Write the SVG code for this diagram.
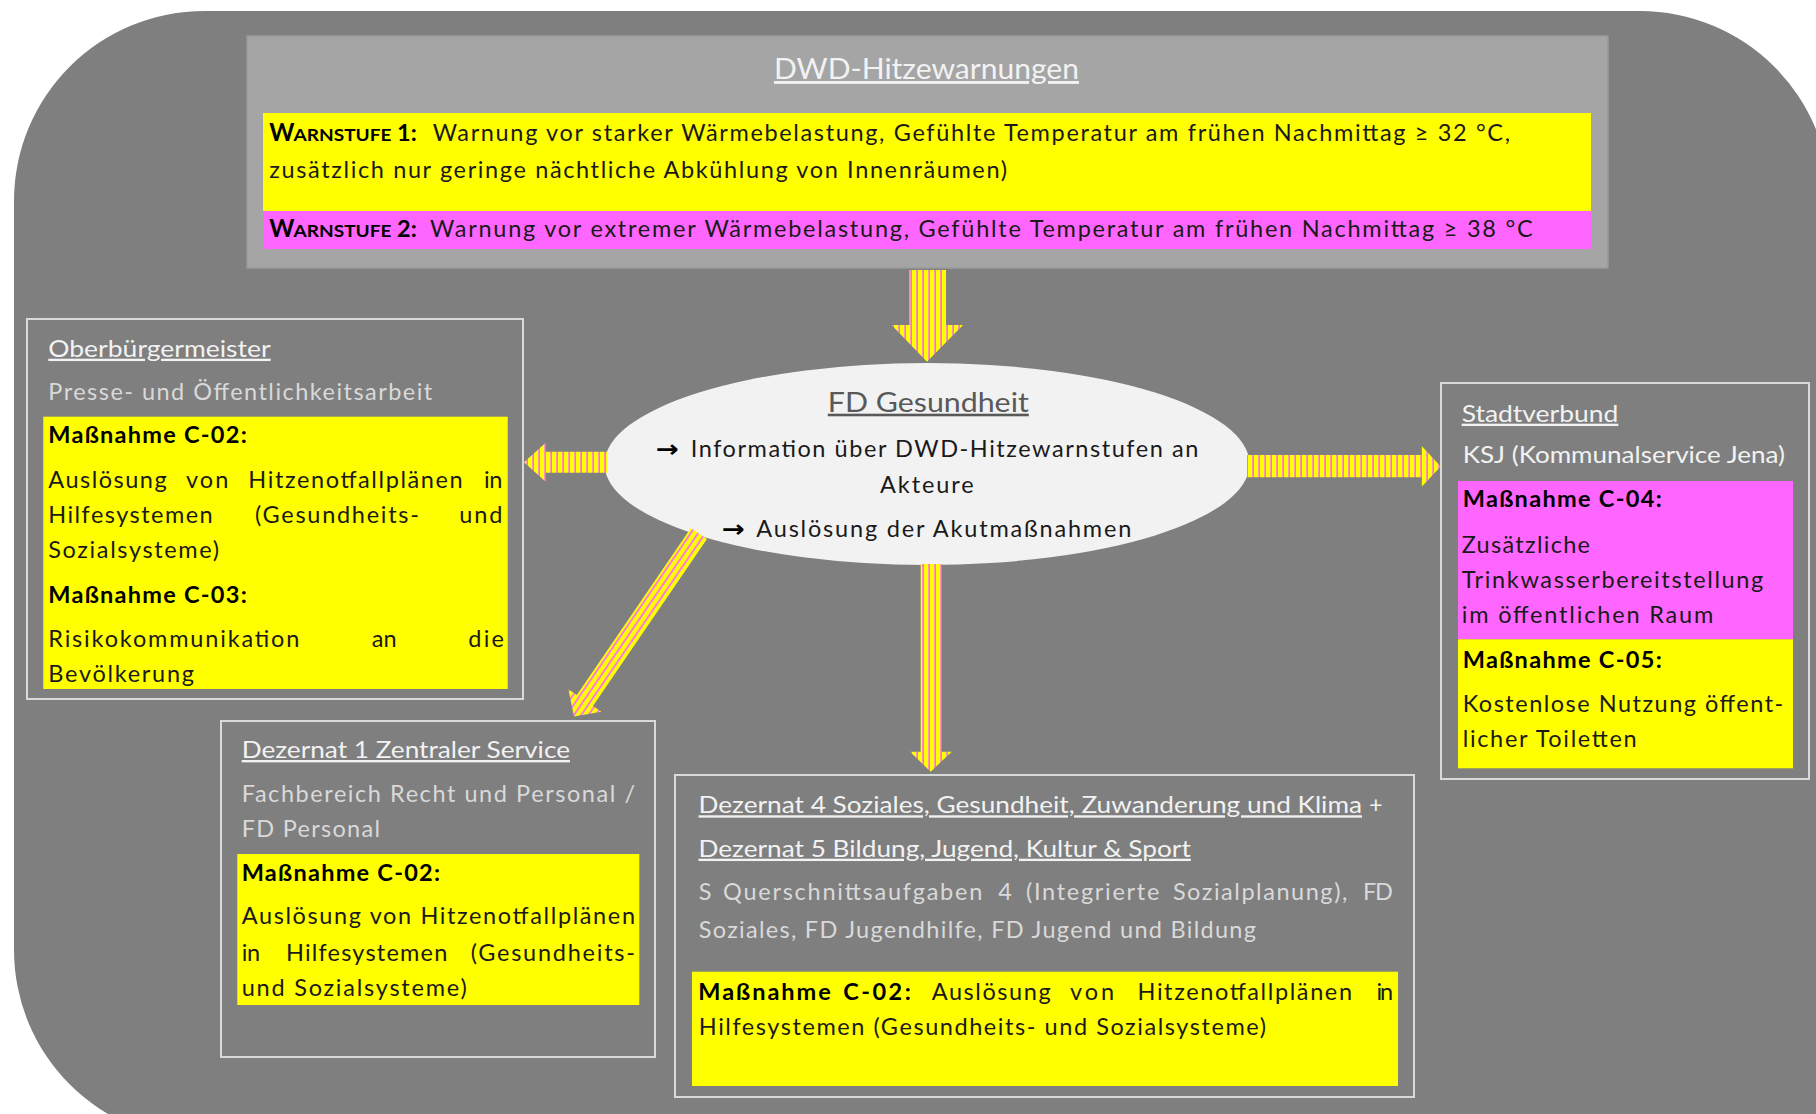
<svg xmlns="http://www.w3.org/2000/svg" width="1816" height="1114" viewBox="0 0 1816 1114">
<defs>
<style>
text{font-family:Lato,"Open Sans","Liberation Sans",sans-serif;font-size:23.5px}
.hd{font-size:23.5px;fill:#f2f2f2;text-decoration:underline}
.ks{font-size:23.5px;fill:#f2f2f2}
.sub{fill:#d9d9d9}
.b{font-weight:700;fill:#000}
.t{fill:#1a1a1a}
.sc{font-weight:700;fill:#000}
.box{fill:none;stroke:#d9d9d9;stroke-width:2}
.yel{fill:#ffff00}
.mag{fill:#ff66ff}
.arr{fill:url(#stripes)}
.ar{font-family:"DejaVu Sans",sans-serif;font-weight:700;fill:#000}
</style>
<pattern id="stripes" patternUnits="userSpaceOnUse" width="6" height="10">
<rect x="0" y="0" width="6" height="10" fill="#ffff00"/>
<rect x="4.3" y="0" width="1.7" height="10" fill="#ff66ff"/>
</pattern>
</defs>
<rect x="0" y="0" width="1816" height="1114" fill="#ffffff"/>
<path d="M204 11 L1640 11 A190 190 0 0 1 1830 201 L1830 1200 L14 1200 L14 201 A190 190 0 0 1 204 11 Z" fill="#7f7f7f"/>
<path d="M0 950 L14 950 L14 950 A190 190 0 0 0 204 1140 L0 1140 Z" fill="#ffffff"/>

<g id="dwd">
<rect x="247" y="36" width="1361" height="232" fill="#a5a5a5" stroke="#9a9a9a" stroke-width="1.5"/>
<text x="774" y="79" class="hd" style="font-size:29px" textLength="305" lengthAdjust="spacingAndGlyphs">DWD-Hitzewarnungen</text>
<rect class="yel" x="263" y="113" width="1328" height="98"/>
<rect class="mag" x="263" y="211" width="1328" height="38"/>
<text x="269.3" y="140.7" class="sc" style="font-size:24px">W</text>
<text x="293.5" y="140.7" class="sc" style="font-size:17px" textLength="98" lengthAdjust="spacingAndGlyphs">ARNSTUFE</text>
<text x="397" y="140.7" class="sc">1:</text>
<text x="432.7" y="140.7" class="t" textLength="1077.3">Warnung vor starker Wärmebelastung, Gefühlte Temperatur am frühen Nachmittag ≥ 32 °C,</text>
<text x="269.3" y="178.3" class="t" textLength="737.7">zusätzlich nur geringe nächtliche Abkühlung von Innenräumen)</text>
<text x="269.3" y="237.3" class="sc" style="font-size:24px">W</text>
<text x="293.5" y="237.3" class="sc" style="font-size:17px" textLength="98" lengthAdjust="spacingAndGlyphs">ARNSTUFE</text>
<text x="397" y="237.3" class="sc">2:</text>
<text x="430" y="237.3" class="t" textLength="1102.6">Warnung vor extremer Wärmebelastung, Gefühlte Temperatur am frühen Nachmittag ≥ 38 °C</text>
</g>

<g id="fd-gesundheit">
<ellipse cx="927" cy="464" rx="322.5" ry="101" fill="#f2f2f2"/>
<text x="827.8" y="411.7" style="font-size:26px;fill:#595959;text-decoration:underline" textLength="201" lengthAdjust="spacingAndGlyphs">FD Gesundheit</text>
<text x="656" y="456.7" class="ar" textLength="23" lengthAdjust="spacingAndGlyphs">→</text>
<text x="690.7" y="456.7" class="t" textLength="507.6">Information über DWD-Hitzewarnstufen an</text>
<text x="880" y="493.3" class="t" textLength="93.7">Akteure</text>
<text x="722" y="536.7" class="ar" textLength="23" lengthAdjust="spacingAndGlyphs">→</text>
<text x="756.3" y="536.7" class="t" textLength="375">Auslösung der Akutmaßnahmen</text>
</g>

<g id="oberbuergermeister">
<rect class="box" x="27" y="319" width="496" height="380"/>
<text x="48.3" y="356.7" class="hd" textLength="222.4" lengthAdjust="spacingAndGlyphs">Oberbürgermeister</text>
<text x="48.3" y="400" class="sub" textLength="384">Presse- und Öffentlichkeitsarbeit</text>
<rect class="yel" x="43.3" y="416.7" width="464.4" height="272.3"/>
<text x="48.3" y="443.3" class="b" textLength="198.4">Maßnahme C-02:</text>
<text x="48.3" y="488.3" class="t" textLength="118.4">Auslösung</text>
<text x="186" y="488.3" class="t" textLength="42.3">von</text>
<text x="248.3" y="488.3" class="t" textLength="214.4">Hitzenotfallplänen</text>
<text x="484" y="488.3" class="t" textLength="18.3">in</text>
<text x="48.3" y="523.3" class="t" textLength="164.4">Hilfesystemen</text>
<text x="255" y="523.3" class="t" textLength="164">(Gesundheits-</text>
<text x="459.3" y="523.3" class="t" textLength="43">und</text>
<text x="48.3" y="558.3" class="t" textLength="170.7">Sozialsysteme)</text>
<text x="48.3" y="603.3" class="b" textLength="198.4">Maßnahme C-03:</text>
<text x="48.3" y="646.7" class="t" textLength="251">Risikokommunikation</text>
<text x="371.7" y="646.7" class="t" textLength="25">an</text>
<text x="468.3" y="646.7" class="t" textLength="35.7">die</text>
<text x="48.3" y="681.7" class="t" textLength="145.7">Bevölkerung</text>
</g>

<g id="dezernat1">
<rect class="box" x="221" y="721" width="434" height="336"/>
<text x="241.7" y="758" class="hd" textLength="328.3" lengthAdjust="spacingAndGlyphs">Dezernat 1 Zentraler Service</text>
<text x="241.7" y="801.7" class="sub" textLength="393.3">Fachbereich Recht und Personal /</text>
<text x="241.7" y="837" class="sub" textLength="138.3">FD Personal</text>
<rect class="yel" x="237.3" y="854" width="402" height="151"/>
<text x="241.7" y="881" class="b" textLength="198.3">Maßnahme C-02:</text>
<text x="241.7" y="924" class="t" textLength="393.3">Auslösung von Hitzenotfallplänen</text>
<text x="241.7" y="960.7" class="t" textLength="18.3">in</text>
<text x="286" y="960.7" class="t" textLength="161.3">Hilfesystemen</text>
<text x="470.7" y="960.7" class="t" textLength="164.3">(Gesundheits-</text>
<text x="241.7" y="995.7" class="t" textLength="225">und Sozialsysteme)</text>
</g>

<g id="dezernat4-5">
<rect class="box" x="675" y="775" width="739" height="322"/>
<text x="698.5" y="813.3" class="hd" textLength="663.5" lengthAdjust="spacingAndGlyphs">Dezernat 4 Soziales, Gesundheit, Zuwanderung und Klima</text>
<text x="1369" y="813.3" class="ks">+</text>
<text x="698.5" y="856.7" class="hd" textLength="492.3" lengthAdjust="spacingAndGlyphs">Dezernat 5 Bildung, Jugend, Kultur &amp; Sport</text>
<text x="698.8" y="900" class="sub">S</text>
<text x="723" y="900" class="sub" textLength="259.3">Querschnittsaufgaben</text>
<text x="998.3" y="900" class="sub">4</text>
<text x="1026" y="900" class="sub" textLength="133.3">(Integrierte</text>
<text x="1172.9" y="900" class="sub" textLength="174.4">Sozialplanung),</text>
<text x="1362.9" y="900" class="sub" textLength="30">FD</text>
<text x="698.8" y="938.3" class="sub" textLength="557.2">Soziales, FD Jugendhilfe, FD Jugend und Bildung</text>
<rect class="yel" x="692" y="971.7" width="706" height="114.3"/>
<text x="698.3" y="1000" class="b" textLength="132.4">Maßnahme</text>
<text x="843.3" y="1000" class="b" textLength="67.4">C-02:</text>
<text x="931.7" y="1000" class="t" textLength="119">Auslösung</text>
<text x="1070" y="1000" class="t" textLength="44">von</text>
<text x="1137.5" y="1000" class="t" textLength="214.5">Hitzenotfallplänen</text>
<text x="1376.4" y="1000" class="t" textLength="16.6">in</text>
<text x="698.8" y="1035" class="t" textLength="567.2">Hilfesystemen (Gesundheits- und Sozialsysteme)</text>
</g>

<g id="stadtverbund">
<rect class="box" x="1441" y="383" width="368" height="396"/>
<text x="1461.7" y="421.7" class="hd" textLength="156.6" lengthAdjust="spacingAndGlyphs">Stadtverbund</text>
<text x="1462.7" y="463.3" class="ks" textLength="322.3" lengthAdjust="spacingAndGlyphs">KSJ (Kommunalservice Jena)</text>
<rect class="mag" x="1458" y="481" width="335" height="158.3"/>
<rect class="yel" x="1458" y="639.3" width="335" height="129"/>
<text x="1462.7" y="507.3" class="b" textLength="199">Maßnahme C-04:</text>
<text x="1461.7" y="552.7" class="t" textLength="128.3">Zusätzliche</text>
<text x="1461.7" y="588.3" class="t" textLength="301.6">Trinkwasserbereitstellung</text>
<text x="1461.7" y="623.3" class="t" textLength="251.6">im öffentlichen Raum</text>
<text x="1462.7" y="667.7" class="b" textLength="199">Maßnahme C-05:</text>
<text x="1462.7" y="711.7" class="t" textLength="320.6">Kostenlose Nutzung öffent-</text>
<text x="1462.7" y="746.7" class="t" textLength="174">licher Toiletten</text>
</g>

<g id="connectors">
<path class="arr" d="M909.5 270 L946 270 L946 325 L963 325 L927 361.7 L891.6 325 L909.5 325 Z"/>
<path class="arr" d="M607 451.7 L545.7 451.7 L545.7 442.7 L524 462.2 L545.7 481.7 L545.7 472.7 L607 472.7 Z"/>
<path class="arr" d="M1247 455 L1421.7 455 L1421.7 446 L1440.7 466.4 L1421.7 486.7 L1421.7 477.3 L1247 477.3 Z"/>
<path class="arr" d="M920.7 564 L941.7 564 L941.7 751.7 L951.7 751.7 L930.7 771.7 L910 751.7 L920.7 751.7 Z"/>
<g transform="translate(696.7 536.7) rotate(34.3)">
<path class="arr" d="M-9.75 -4 L9.75 -4 L9.75 198.4 L20 198.4 L0 217.8 L-20 198.4 L-9.75 198.4 Z"/>
</g>
</g>
</svg>
